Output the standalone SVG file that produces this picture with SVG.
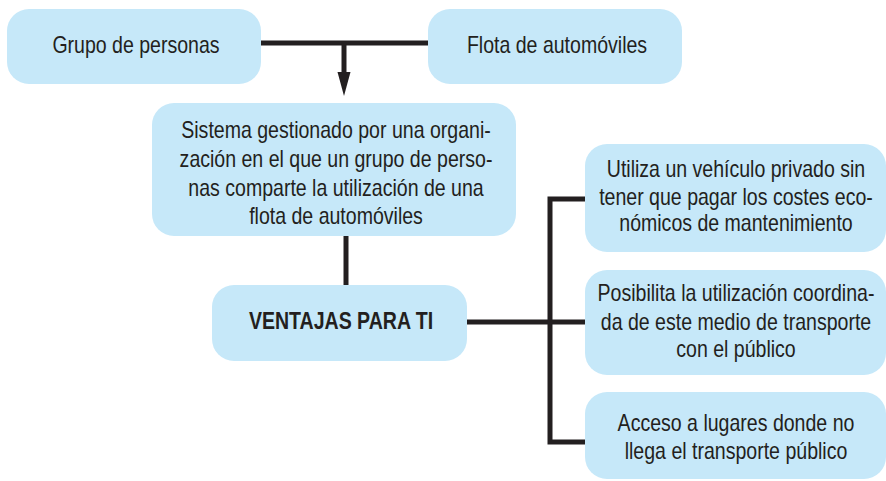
<svg xmlns="http://www.w3.org/2000/svg" width="886" height="481" viewBox="0 0 886 481">
<style>
.box{fill:#c6e8f9}
.t{font-family:"Liberation Sans",Arial,sans-serif;font-size:23px;fill:#231f20;text-anchor:middle}
.b{font-weight:bold}
.ln{stroke:#231f20;stroke-width:5;fill:none}
</style>
<rect width="886" height="481" fill="#fff"/>
<g id="connectors">
<line class="ln" x1="261" y1="43" x2="428" y2="43"/>
<line class="ln" x1="344" y1="43" x2="344" y2="73"/>
<path d="M337.5,72 L350.5,72 L344,96 Z" fill="#231f20"/>
<line class="ln" x1="346" y1="235" x2="346" y2="285"/>
<line class="ln" x1="467" y1="322" x2="550" y2="322"/>
<polyline class="ln" points="585,199 550,199 550,442 585,442"/>
<line class="ln" x1="550" y1="322" x2="585" y2="322"/>
</g>
<g id="grupo">
<rect class="box" x="7" y="9" width="254" height="75" rx="22"/>
<g transform="translate(136 0) scale(0.85 1)"><text class="t" x="0" y="53">Grupo de personas</text></g>
</g>
<g id="flota">
<rect class="box" x="428" y="9" width="254" height="75" rx="22"/>
<g transform="translate(557 0) scale(0.85 1)"><text class="t" x="0" y="53">Flota de automóviles</text></g>
</g>
<g id="sistema">
<rect class="box" x="152" y="103" width="364" height="133" rx="22"/>
<g transform="translate(336 0) scale(0.85 1)">
<text class="t" x="0" y="138">Sistema gestionado por una organi-</text>
<text class="t" x="0" y="167">zación en el que un grupo de perso-</text>
<text class="t" x="0" y="196">nas comparte la utilización de una</text>
<text class="t" x="0" y="224">flota de automóviles</text>
</g>
</g>
<g id="ventajas">
<rect class="box" x="212" y="285" width="255" height="76" rx="22"/>
<g transform="translate(341 0) scale(0.85 1)"><text class="t b" x="0" y="329">VENTAJAS PARA TI</text></g>
</g>
<g id="utiliza">
<rect class="box" x="585" y="144" width="301" height="108" rx="22"/>
<g transform="translate(736 0) scale(0.85 1)">
<text class="t" x="0" y="177">Utiliza un vehículo privado sin</text>
<text class="t" x="0" y="205">tener que pagar los costes eco-</text>
<text class="t" x="0" y="231">nómicos de mantenimiento</text>
</g>
</g>
<g id="posibilita">
<rect class="box" x="585" y="270" width="301" height="105" rx="22"/>
<g transform="translate(736 0) scale(0.85 1)">
<text class="t" x="0" y="301">Posibilita la utilización coordina-</text>
<text class="t" x="0" y="330">da de este medio de transporte</text>
<text class="t" x="0" y="357">con el público</text>
</g>
</g>
<g id="acceso">
<rect class="box" x="585" y="392" width="301" height="87" rx="22"/>
<g transform="translate(736 0) scale(0.85 1)">
<text class="t" x="0" y="431">Acceso a lugares donde no</text>
<text class="t" x="0" y="459">llega el transporte público</text>
</g>
</g>
</svg>
